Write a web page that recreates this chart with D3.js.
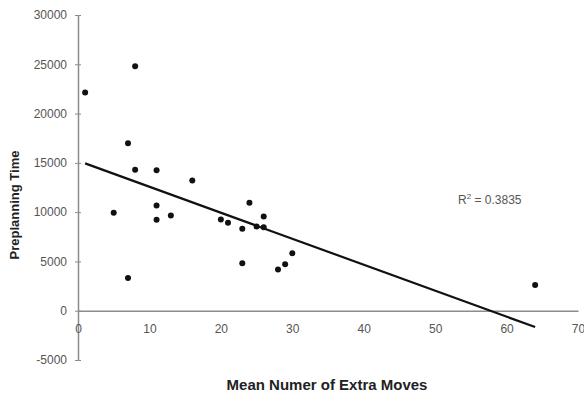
<!DOCTYPE html>
<html>
<head>
<meta charset="utf-8">
<script src="https://cdn.jsdelivr.net/npm/d3@7"></script>
<style>
  body { margin: 0; background: #fff; }
  text { font-family: "Liberation Sans", Arial, sans-serif; }
</style>
</head>
<body>
<div id="app"></div>
<script>
// extra moves (x) vs preplanning time (y)
const extraMoves = [1, 8, 7, 8, 11, 16, 5, 11, 11, 13, 7, 20, 21, 23, 24, 25, 26, 26, 23, 28, 29, 30, 64];
const planTime = [22150, 24800, 17000, 14300, 14240, 13220, 9930, 10680, 9220, 9660, 3320, 9250, 8920, 8310, 10950, 8540, 9560, 8470, 4810, 4170, 4710, 5830, 2610];
const xTicks = [0, 10, 20, 30, 40, 50, 60, 70];
const yTicks = [-5000, 0, 5000, 10000, 15000, 20000, 25000, 30000];
const rSquared = '0.3835';

const W = 584, H = 394;
const svg = d3.select('#app').append('svg')
  .attr('width', W)
  .attr('height', H);

const x = d3.scaleLinear().domain([0, 70]).range([78, 578]);
const y = d3.scaleLinear().domain([-5000, 30000]).range([360, 15]);

const points = extraMoves.map((v, i) => ({ x: v, y: planTime[i] }));

// least squares trendline, like excel's linear trendline
const mx = d3.mean(points, d => d.x);
const my = d3.mean(points, d => d.y);
const slope = d3.sum(points, d => (d.x - mx) * (d.y - my)) / d3.sum(points, d => (d.x - mx) ** 2);
const icpt = my - slope * mx;
const [x0, x1] = d3.extent(extraMoves);

// y axis, sits at x = 0
const yAxis = svg.append('g')
  .attr('transform', `translate(${x(0)},0)`)
  .call(d3.axisLeft(y).tickValues(yTicks).tickSize(0).tickPadding(11).tickFormat(d => String(d)));
yAxis.select('.domain').attr('stroke', '#8c8c8c').attr('stroke-width', 1.5);
yAxis.selectAll('.tick').append('line')
  .attr('x1', -3).attr('x2', 3)
  .attr('stroke', '#8c8c8c');
yAxis.selectAll('text').attr('fill', '#555').style('font-size', '12px');

// x axis crosses at y = 0
const xAxis = svg.append('g')
  .attr('transform', `translate(0,${y(0)})`)
  .call(d3.axisBottom(x).tickValues(xTicks).tickSize(0).tickPadding(14));
xAxis.select('.domain').attr('stroke', '#8c8c8c').attr('stroke-width', 1.5);
xAxis.selectAll('text').attr('fill', '#555').style('font-size', '12px');

// points
svg.append('g')
  .selectAll('circle')
  .data(points)
  .enter()
  .append('circle')
  .attr('cx', d => x(d.x))
  .attr('cy', d => y(d.y))
  .attr('r', 3)
  .attr('fill', '#111');

svg.append('line')
  .attr('x1', x(x0)).attr('y1', y(icpt + slope * x0))
  .attr('x2', x(x1)).attr('y2', y(icpt + slope * x1))
  .attr('stroke', '#111')
  .attr('stroke-width', 2.2);

// r squared label
const rl = svg.append('text')
  .attr('x', x(53.2))
  .attr('y', y(11200) + 4)
  .attr('fill', '#555')
  .style('font-size', '12px');
rl.append('tspan').text('R');
rl.append('tspan').attr('dy', -5).style('font-size', '8px').text('2');
rl.append('tspan').attr('dy', 5).text(' = ' + rSquared);

// axis titles
svg.append('text')
  .attr('x', 327)
  .attr('y', 390)
  .attr('text-anchor', 'middle')
  .attr('fill', '#222')
  .style('font-size', '15px')
  .style('font-weight', 'bold')
  .text('Mean Numer of Extra Moves');

svg.append('text')
  .attr('transform', 'translate(19,205) rotate(-90)')
  .attr('text-anchor', 'middle')
  .attr('fill', '#222')
  .style('font-size', '13px')
  .style('font-weight', 'bold')
  .text('Preplanning Time');
</script>
</body>
</html>
